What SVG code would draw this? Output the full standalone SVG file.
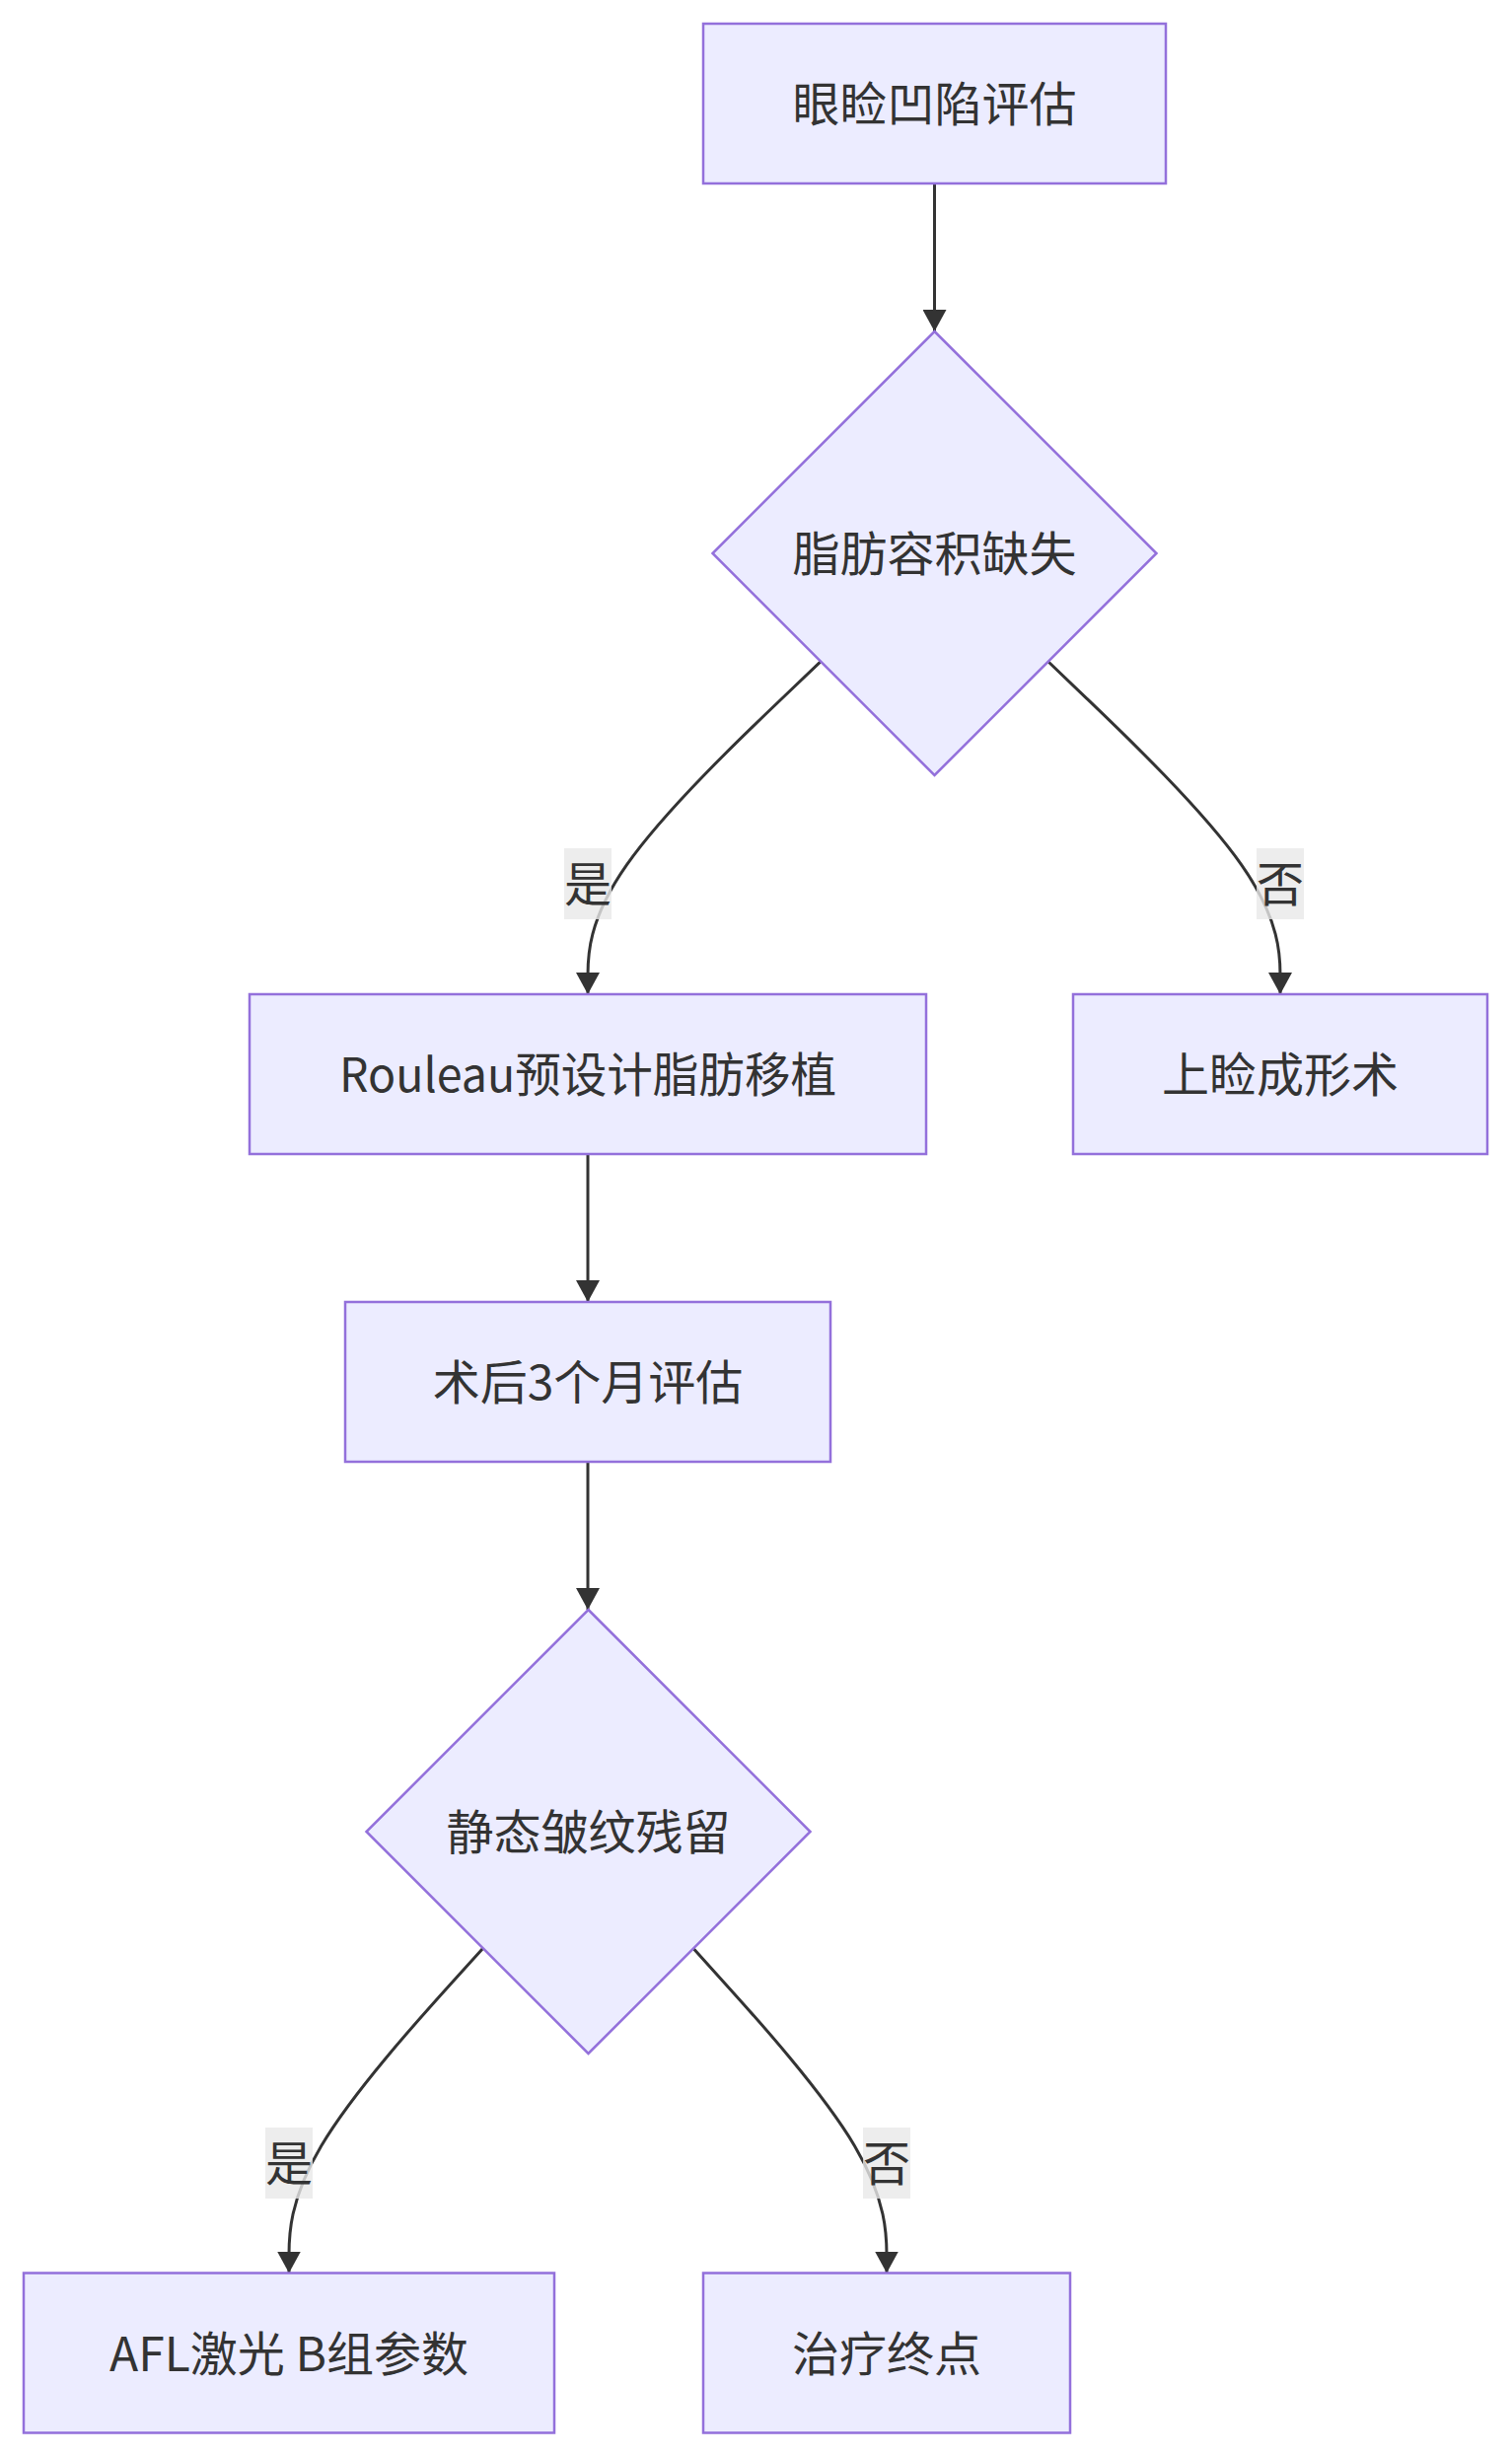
<svg xmlns="http://www.w3.org/2000/svg" width="1533" height="2490" viewBox="0 0 1533 2490">
<style>
.node rect,.node polygon{fill:#ECECFF;stroke:#9370DB;stroke-width:2.5}
.t{font-family:"Noto Sans CJK SC","Noto Sans",sans-serif;font-size:48px;fill:#333333;text-anchor:middle}
.edge{fill:none;stroke:#333333;stroke-width:3}
.lbl rect{fill:#e8e8e8;fill-opacity:0.8;stroke:none}
</style>
<defs>
<marker id="arr" viewBox="0 0 10 10" refX="10" refY="5" markerUnits="userSpaceOnUse" markerWidth="22" markerHeight="24" orient="auto" preserveAspectRatio="none">
<path d="M0,0 L10,5 L0,10 z" fill="#333333"/>
</marker>
</defs>
<rect width="1533" height="2490" fill="#ffffff"/>
<g id="connectors">
<path class="edge" d="M947.5,186 L947.5,336" marker-end="url(#arr)"/>
<path class="edge" d="M832.4,670.4 L793,708 C753.6,745.6 674.8,820.8 635.4,876.9 C596,933 596,970 596,988.5 L596,1008" marker-end="url(#arr)"/>
<path class="edge" d="M1062.5,670.5 L1101.75,708.1 C1141,745.7 1219.5,820.8 1258.75,876.9 C1298,933 1298,970 1298,988.5 L1298,1008" marker-end="url(#arr)"/>
<path class="edge" d="M596,1170 L596,1320" marker-end="url(#arr)"/>
<path class="edge" d="M596,1482 L596,1632" marker-end="url(#arr)"/>
<path class="edge" d="M489.7,1975.2 L456.9,2011.5 C424.1,2047.8 358.6,2120.4 325.8,2175.4 C293,2230.3 293,2267.7 293,2286.3 L293,2304.5" marker-end="url(#arr)"/>
<path class="edge" d="M703.1,1975.4 L735.75,2011.7 C768.4,2047.9 833.7,2120.5 866.4,2175.4 C899,2230.3 899,2267.7 899,2286.3 L899,2304.5" marker-end="url(#arr)"/>
<g class="lbl"><rect x="572" y="860" width="48" height="72"/><text class="t" x="596" y="914">是</text></g>
<g class="lbl"><rect x="1274" y="860" width="48" height="72"/><text class="t" x="1298" y="914">否</text></g>
<g class="lbl"><rect x="269" y="2157" width="48" height="72"/><text class="t" x="293" y="2211">是</text></g>
<g class="lbl"><rect x="875" y="2157" width="48" height="72"/><text class="t" x="899" y="2211">否</text></g>
</g>
<g id="A" class="node"><rect x="713" y="24" width="469" height="162"/><text class="t" x="947.5" y="123">眼睑凹陷评估</text></g>
<g id="B" class="node"><polygon points="947.5,336 1172.5,561 947.5,786 722.5,561"/><text class="t" x="947.5" y="579">脂肪容积缺失</text></g>
<g id="C" class="node"><rect x="253" y="1008" width="686" height="162"/><text class="t" x="596" y="1107" textLength="504" lengthAdjust="spacingAndGlyphs">Rouleau预设计脂肪移植</text></g>
<g id="D" class="node"><rect x="1088" y="1008" width="420" height="162"/><text class="t" x="1298" y="1107">上睑成形术</text></g>
<g id="E" class="node"><rect x="350" y="1320" width="492" height="162"/><text class="t" x="596" y="1419">术后3个月评估</text></g>
<g id="F" class="node"><polygon points="596.5,1632 821.5,1857 596.5,2082 371.5,1857"/><text class="t" x="596.5" y="1875">静态皱纹残留</text></g>
<g id="G" class="node"><rect x="24" y="2304.5" width="538" height="162"/><text class="t" x="293" y="2403.5">AFL激光 B组参数</text></g>
<g id="H" class="node"><rect x="713" y="2304.5" width="372" height="162"/><text class="t" x="899" y="2403.5">治疗终点</text></g>
</svg>
